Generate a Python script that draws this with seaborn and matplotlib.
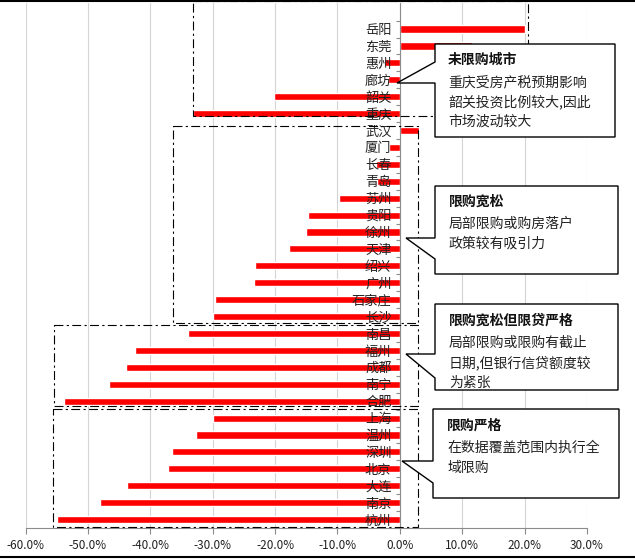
import numpy as np
import matplotlib
matplotlib.use('Agg')
import matplotlib.pyplot as plt
import seaborn as sns
from matplotlib.patches import Polygon, Rectangle
from matplotlib.ticker import PercentFormatter

# Data (top to bottom)
cities = ['岳阳', '东莞', '惠州', '廊坊', '韶关', '重庆',
          '武汉', '厦门', '长春', '青岛', '苏州', '贵阳', '徐州', '天津', '绍兴', '广州', '石家庄', '长沙',
          '南昌', '福州', '成都', '南宁', '合肥',
          '上海', '温州', '深圳', '北京', '大连', '南京', '杭州']
changes = [0.200, 0.115, -0.026, -0.019, -0.201, -0.331,
           0.031, -0.018, -0.038, -0.036, -0.098, -0.148, -0.151, -0.178, -0.233, -0.234, -0.297, -0.300,
           -0.340, -0.424, -0.439, -0.466, -0.539,
           -0.300, -0.327, -0.366, -0.371, -0.437, -0.481, -0.550]
x_ticks = [-0.6, -0.5, -0.4, -0.3, -0.2, -0.1, 0.0, 0.1, 0.2, 0.3]

# Callout texts
titles = ['未限购城市', '限购宽松', '限购宽松但限贷严格', '限购严格']
bodies = [['重庆受房产税预期影响', '韶关投资比例较大,因此', '市场波动较大'],
          ['局部限购或购房落户', '政策较有吸引力'],
          ['局部限购或限购有截止', '日期,但银行信贷额度较', '为紧张'],
          ['在数据覆盖范围内执行全', '域限购']]

sns.set_theme(style='white')
plt.rcParams['font.family'] = ['Noto Sans CJK SC', 'DejaVu Sans']
plt.rcParams['axes.unicode_minus'] = False

fig = plt.figure(figsize=(6.35, 5.6), dpi=100)
W, H = 635, 560
ax = fig.add_axes([25.6 / W, (H - 528) / H, (587 - 25.6) / W, (528 - 3) / H])

sns.barplot(x=changes, y=cities, orient='h', color='#ff0000', width=0.42,
            saturation=1, ax=ax)

ax.set_xlim(-0.6, 0.3)
ax.set_ylim(29.5, -1.54)
ax.set_xticks(x_ticks)
ax.xaxis.set_major_formatter(PercentFormatter(1.0, decimals=1))
ax.set_xlabel('')
ax.set_ylabel('')

# gridlines under bars, category labels over bars
ax.xaxis.grid(True, color='#d4d4d4', lw=0.8)
ax.set_axisbelow(True)
ax.yaxis.set_zorder(3)

for s in ['top', 'right']:
    ax.spines[s].set_visible(False)
ax.spines['left'].set_position(('data', 0))
ax.spines['left'].set_color('#8c8c8c')
ax.spines['left'].set_linewidth(0.8)
ax.spines['bottom'].set_color('#8c8c8c')
ax.spines['bottom'].set_linewidth(0.8)

ax.tick_params(axis='x', length=4, width=0.8, color='#8c8c8c', direction='out',
               bottom=True, labelsize=8.5, labelcolor='#222222', pad=4)
ax.tick_params(axis='y', which='major', length=0, labelsize=9.5,
               labelcolor='#222222', pad=6)
ax.set_yticks(np.arange(-0.5, len(cities), 1), minor=True)
ax.tick_params(axis='y', which='minor', length=3, width=0.8, color='#8c8c8c',
               direction='out', left=True)

# overlay in pixel coordinates for group boxes and callouts
ov = fig.add_axes([0, 0, 1, 1], zorder=5)
ov.set_xlim(0, W)
ov.set_ylim(H, 0)
ov.axis('off')
ov.patch.set_alpha(0)

dash = (0, (8, 3, 2, 3))
group_boxes = [(193, 0.8, 528, 116), (173, 126, 418, 323),
               (54, 325, 418, 406), (53, 409, 418, 527)]
for x0, y0, x1, y1 in group_boxes:
    ov.add_patch(Rectangle((x0, y0), x1 - x0, y1 - y0, fill=False,
                           ec='black', lw=0.8, ls=dash))

callouts = [
    [(435, 44), (615, 44), (615, 137), (435, 137), (435, 83), (397, 83), (435, 62)],
    [(435, 186), (618, 186), (618, 274), (435, 274), (435, 259), (406, 238), (435, 238)],
    [(435, 304), (618, 304), (618, 390), (435, 390), (435, 378), (406, 354), (435, 354)],
    [(433, 409), (619, 409), (619, 498), (433, 498), (433, 483), (402, 461), (433, 461)],
]
text_pos = [(448, 60), (449, 202), (449, 321), (447, 426)]
for poly, (tx, ty), title, body in zip(callouts, text_pos, titles, bodies):
    ov.add_patch(Polygon(poly, closed=True, fc='white', ec='black', lw=1.0))
    ov.text(tx, ty, title, fontsize=10, fontweight='bold', color='#111111',
            va='center', ha='left')
    for k, line in enumerate(body):
        ov.text(tx, ty + 22 + 20 * k, line, fontsize=10, color='#222222',
                va='center', ha='left')

# frame lines of the original picture
ov.plot([0, W], [0.8, 0.8], color='black', lw=1.5)
ov.plot([0, W], [557, 557], color='black', lw=1.5)

fig.savefig('out.png', dpi=100)
